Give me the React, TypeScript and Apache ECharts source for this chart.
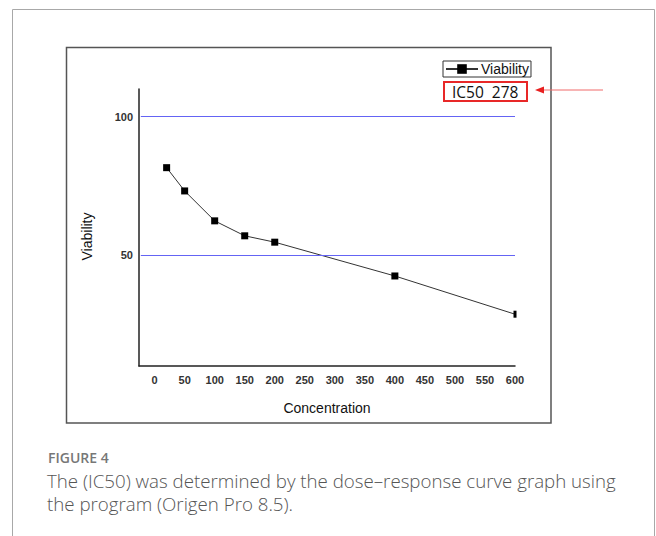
import React, { useEffect, useRef } from "react";
import * as echarts from "echarts";

const concentration = [20, 50, 100, 150, 200, 400, 600];
const viability = [81.6, 73.2, 62.4, 57.0, 54.7, 42.5, 28.7];
const xTicks = [0, 50, 100, 150, 200, 250, 300, 350, 400, 450, 500, 550, 600];
const yTicks = [50, 100];
const refLines = [100, 50];
const ic50 = 278;
const seriesName = "Viability";
const captionTitle = "FIGURE 4";
const captionLines = [
  "The (IC50) was determined by the dose\u2013response curve graph using",
  "the program (Origen Pro 8.5).",
];

const FONT = "'Liberation Sans', Arial, sans-serif";
const CAP_FONT = "'Open Sans', 'Noto Sans', sans-serif";

export default function App() {
  const ref = useRef<HTMLDivElement>(null);
  useEffect(() => {
    if (!ref.current) return;
    const chart = echarts.init(ref.current, null, { renderer: "svg" });
    const xMax = 600;
    chart.setOption({
      animation: false,
      backgroundColor: "#ffffff",
      grid: { left: 139, right: 141, top: 89, bottom: 170 },
      legend: {
        data: [seriesName],
        left: 443,
        top: 61,
        padding: [1, 2, 1, 2],
        itemWidth: 32,
        itemHeight: 12,
        itemGap: 0,
        borderColor: "#333",
        borderWidth: 1,
        textStyle: { fontFamily: FONT, fontSize: 14, color: "#111", padding: [0, 0, 0, -2] },
      },
      xAxis: {
        type: "value",
        min: -26,
        max: xMax,
        name: "Concentration",
        nameLocation: "middle",
        nameGap: 35,
        nameTextStyle: { fontFamily: FONT, fontSize: 14, color: "#111" },
        axisLine: { show: true, onZero: false, lineStyle: { color: "#222", width: 1.5 } },
        axisTick: { show: false },
        splitLine: { show: false },
        axisLabel: {
          customValues: xTicks,
          fontFamily: FONT,
          fontSize: 11,
          fontWeight: "bold",
          color: "#333",
          margin: 8,
        },
      },
      yAxis: {
        type: "value",
        min: 10,
        max: 110,
        name: "Viability",
        nameLocation: "middle",
        nameGap: 45,
        nameTextStyle: { fontFamily: FONT, fontSize: 14, color: "#111", padding: [0, 18, 0, 0] },
        axisLine: { show: true, onZero: false, lineStyle: { color: "#222", width: 1.5 } },
        axisTick: { show: false },
        splitLine: { show: false },
        axisLabel: {
          customValues: yTicks,
          fontFamily: FONT,
          fontSize: 11,
          fontWeight: "bold",
          color: "#333",
          margin: 6,
        },
      },
      series: [
        {
          name: seriesName,
          type: "line",
          data: concentration.map((c, i) => [c, viability[i]]),
          symbol: "rect",
          symbolSize: (val: number[]) => (val[0] >= xMax ? [3, 7] : 7),
          itemStyle: { color: "#000" },
          lineStyle: { color: "#333", width: 1 },
          markLine: {
            silent: true,
            symbol: "none",
            label: { show: false },
            lineStyle: { color: "#6464f4", width: 1, type: "solid" },
            data: refLines.map((v) => [
              { coord: [-23, v] },
              { coord: [xMax, v] },
            ]),
          },
          z: 3,
        },
      ],
      graphic: [
        {
          type: "rect",
          shape: { x: 12.5, y: 9.5, width: 642, height: 560 },
          style: { fill: "none", stroke: "#a8a8a8", lineWidth: 1 },
          silent: true,
        },
        {
          type: "rect",
          shape: { x: 66.5, y: 47.5, width: 484.5, height: 375.5 },
          style: { fill: "none", stroke: "#555", lineWidth: 1.5 },
          silent: true,
        },
        {
          type: "rect",
          shape: { x: 444, y: 82, width: 83, height: 19 },
          style: { fill: "none", stroke: "#e82828", lineWidth: 2 },
        },
        {
          type: "text",
          x: 452,
          y: 91.5,
          style: {
            text: "IC50  " + ic50,
            font: "15.5px " + CAP_FONT,
            fill: "#111",
            verticalAlign: "middle",
          },
        },
        {
          type: "line",
          shape: { x1: 541, y1: 90, x2: 603, y2: 90 },
          style: { stroke: "#f06a6a", lineWidth: 1 },
        },
        {
          type: "polygon",
          shape: { points: [[535, 90], [544, 86.5], [544, 93.5]] },
          style: { fill: "#e82020" },
        },
        {
          type: "text",
          x: 48,
          y: 457,
          style: {
            text: captionTitle,
            font: "600 14px " + CAP_FONT,
            fill: "#777",
            verticalAlign: "middle",
          },
        },
        ...captionLines.map((line, i) => ({
          type: "text",
          x: 47,
          y: 480 + i * 23,
          style: {
            text: line,
            font: "300 18.7px " + CAP_FONT,
            fill: "#555",
            verticalAlign: "middle",
          },
        })),
      ],
    });
    return () => chart.dispose();
  }, []);
  return (
    <div
      ref={ref}
      style={{ position: "absolute", left: 0, top: 0, width: 656, height: 536 }}
    />
  );
}
